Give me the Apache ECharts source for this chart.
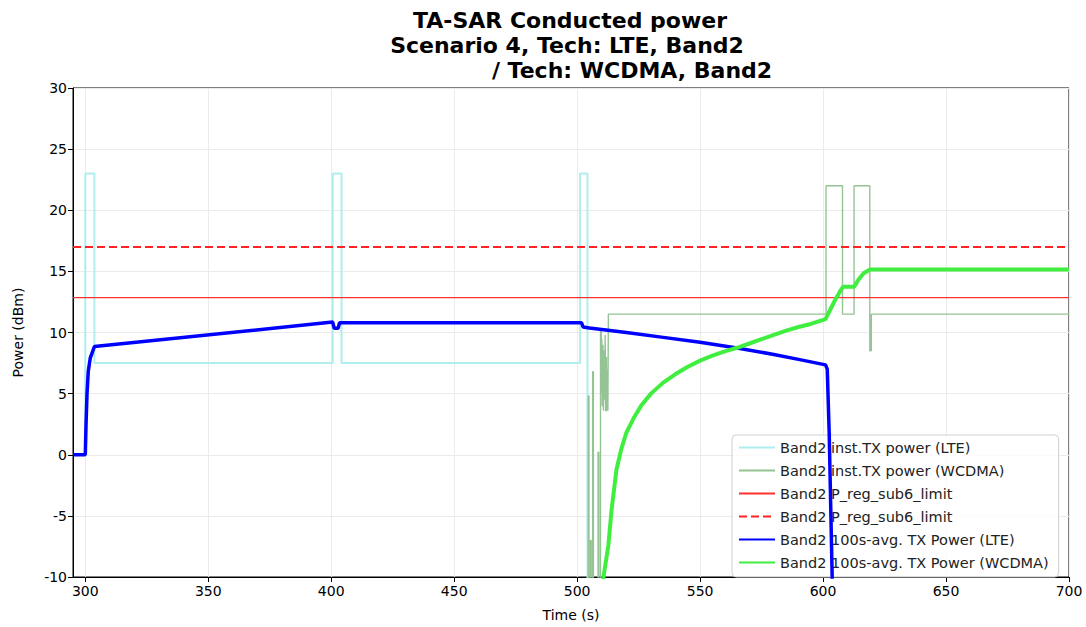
<!DOCTYPE html>
<html>
<head>
<meta charset="utf-8">
<script src="https://cdn.jsdelivr.net/npm/echarts@6/dist/echarts.min.js"></script>
<style>
html,body{margin:0;padding:0;background:#fff;overflow:hidden;}
#chart{width:1086px;height:627px;}
</style>
</head>
<body>
<div id="chart"></div>
<script>
// ---- data (time in s, power in dBm) ----
const titleLines = ['TA-SAR Conducted power', 'Scenario 4, Tech: LTE, Band2', '/ Tech: WCDMA, Band2'];
const xTicks = [300, 350, 400, 450, 500, 550, 600, 650, 700];
const seriesNames = [
  'Band2 inst.TX power (LTE)',
  'Band2 inst.TX power (WCDMA)',
  'Band2 P_reg_sub6_limit',
  'Band2 P_reg_sub6_limit ',
  'Band2 100s-avg. TX Power (LTE)',
  'Band2 100s-avg. TX Power (WCDMA)'
];

// step data: value holds until next time
const lteInstT = [300, 300, 303.7, 400.6, 404.2, 501.2, 504.2];
const lteInstP = [0, 23, 7.5, 23, 7.5, 23, -60];

const wcdmaInstT = [504.2, 504.5, 504.8, 505.4, 505.7, 506.3, 506.6, 508.5, 508.8,
  509.5, 509.8, 510.0, 510.2, 510.5, 510.7, 510.9, 511.2, 511.4, 511.6, 511.9, 512.1, 512.3, 512.5,
  512.7, 601.2, 607.9, 612.6, 619.0, 619.6, 700];
const wcdmaInstP = [-60, 4.8, -60, -7, -60, 6.8, -60, 0.2, -60,
  10.1, 5, 9.5, 4, 9, 3.6, 8.5, 4.5, 9.8, 3.6, 8, 3.6, 7, 3.6,
  11.5, 22, 11.5, 22, 8.5, 11.5, 11.5];

const limitT = [295, 700];
const limitSolidP = [12.85, 12.85];
const limitDashP = [17, 17];

const lteAvgT = [295, 300, 300.3, 300.7, 301.2, 302, 303.7, 400.6, 401.2, 402.8, 403.4, 501.8, 502.4,
  505, 520, 535, 550, 565, 580, 590, 601, 601.7, 602.5, 603.7, 604.5];
const lteAvgP = [0, 0, 2.5, 5, 6.8, 7.9, 8.85, 10.85, 10.35, 10.35, 10.8, 10.8, 10.45,
  10.37, 10.0, 9.6, 9.2, 8.74, 8.2, 7.8, 7.35, 7.0, 1.7, -10, -25];

const wcdmaAvgT = [510.2, 510.7, 512.7, 514, 516, 518, 520, 523, 526, 530, 535, 540, 545, 550, 555,
  560, 565, 570, 575, 580, 585, 590, 595, 601, 603, 605, 607, 608.2, 612.7, 614.5, 616.5, 619.1, 700];
const wcdmaAvgP = [-13, -10, -7.4, -4.5, -1.2, 0.5, 1.8, 3.0, 4.0, 5.0, 5.9, 6.6, 7.2, 7.7, 8.1,
  8.45, 8.75, 9.1, 9.45, 9.8, 10.15, 10.45, 10.7, 11.1, 11.9, 12.7, 13.4, 13.75, 13.75, 14.35, 14.85, 15.15, 15.15];

const zip = (t, p) => t.map((v, i) => [v, p[i]]);

// ---- chart ----
const chart = echarts.init(document.getElementById('chart'), null, {renderer: 'svg', width: 1086, height: 627});
const FONT = 'DejaVu Sans';
const titleFont = 'bold 22px "DejaVu Sans"';

chart.setOption({
  animation: false,
  backgroundColor: '#fff',
  textStyle: {fontFamily: FONT},
  graphic: [
    {type: 'text', x: 570, y: 20, style: {text: titleLines[0], font: titleFont, fill: '#000', textAlign: 'center', textVerticalAlign: 'middle'}},
    {type: 'text', x: 567, y: 45, style: {text: titleLines[1], font: titleFont, fill: '#000', textAlign: 'center', textVerticalAlign: 'middle'}},
    {type: 'text', x: 632, y: 70, style: {text: titleLines[2], font: titleFont, fill: '#000', textAlign: 'center', textVerticalAlign: 'middle'}}
  ],
  grid: {left: 73, top: 88, width: 996, height: 493, show: true, borderColor: '#000', borderWidth: 1, backgroundColor: 'transparent'},
  legend: {
    orient: 'vertical',
    left: 732, top: 435,
    itemWidth: 36, itemHeight: 14, itemGap: 8,
    padding: [5, 10, 7, 6],
    borderColor: '#d0d0d0', borderWidth: 1, borderRadius: 4,
    backgroundColor: 'rgba(255,255,255,0.8)',
    itemStyle: {opacity: 0},
    textStyle: {fontSize: 14.5, color: '#222', fontFamily: FONT},
    data: seriesNames
  },
  xAxis: {
    type: 'value', min: 295, max: 700, splitNumber: 8,
    name: 'Time (s)', nameLocation: 'middle', nameGap: 31,
    nameTextStyle: {fontSize: 14, color: '#000', fontFamily: FONT},
    axisLine: {onZero: false, lineStyle: {color: '#000', width: 1}},
    axisTick: {show: true, length: 5, lineStyle: {color: '#000'}, customValues: xTicks},
    axisLabel: {color: '#000', fontSize: 14, margin: 7, fontFamily: FONT, customValues: xTicks},
    splitLine: {show: true, lineStyle: {color: '#ebebeb', width: 1}}
  },
  yAxis: {
    type: 'value', min: -10, max: 30, interval: 5,
    name: 'Power (dBm)', nameLocation: 'middle', nameGap: 48,
    nameTextStyle: {fontSize: 14, color: '#000', fontFamily: FONT},
    axisLine: {show: true, onZero: false, lineStyle: {color: '#000', width: 1}},
    axisTick: {show: true, length: 5, lineStyle: {color: '#000'}},
    axisLabel: {color: '#000', fontSize: 14, margin: 6, fontFamily: FONT},
    splitLine: {show: true, lineStyle: {color: '#ebebeb', width: 1}}
  },
  series: [
    {name: seriesNames[0], type: 'line', step: 'end', data: zip(lteInstT, lteInstP), symbol: 'none', color: '#aeeeee',
     lineStyle: {color: '#aeeeee', width: 2}, z: 2},
    {name: seriesNames[1], type: 'line', step: 'end', data: zip(wcdmaInstT, wcdmaInstP), symbol: 'none', color: '#94c494',
     lineStyle: {color: '#94c494', width: 1.4}, z: 3},
    {name: seriesNames[2], type: 'line', data: zip(limitT, limitSolidP), symbol: 'none', color: '#ff3030',
     lineStyle: {color: '#ff3030', width: 1.3}, z: 4},
    {name: seriesNames[3], type: 'line', data: zip(limitT, limitDashP), symbol: 'none', color: '#ff2222',
     lineStyle: {color: '#ff2222', width: 2, type: [8, 4]}, z: 4},
    {name: seriesNames[4], type: 'line', data: zip(lteAvgT, lteAvgP), symbol: 'none', color: '#0000ff',
     lineStyle: {color: '#0000ff', width: 3.5}, z: 5},
    {name: seriesNames[5], type: 'line', data: zip(wcdmaAvgT, wcdmaAvgP), symbol: 'none', color: '#40ee40',
     lineStyle: {color: '#40ee40', width: 4}, z: 6}
  ]
});
</script>
</body>
</html>
